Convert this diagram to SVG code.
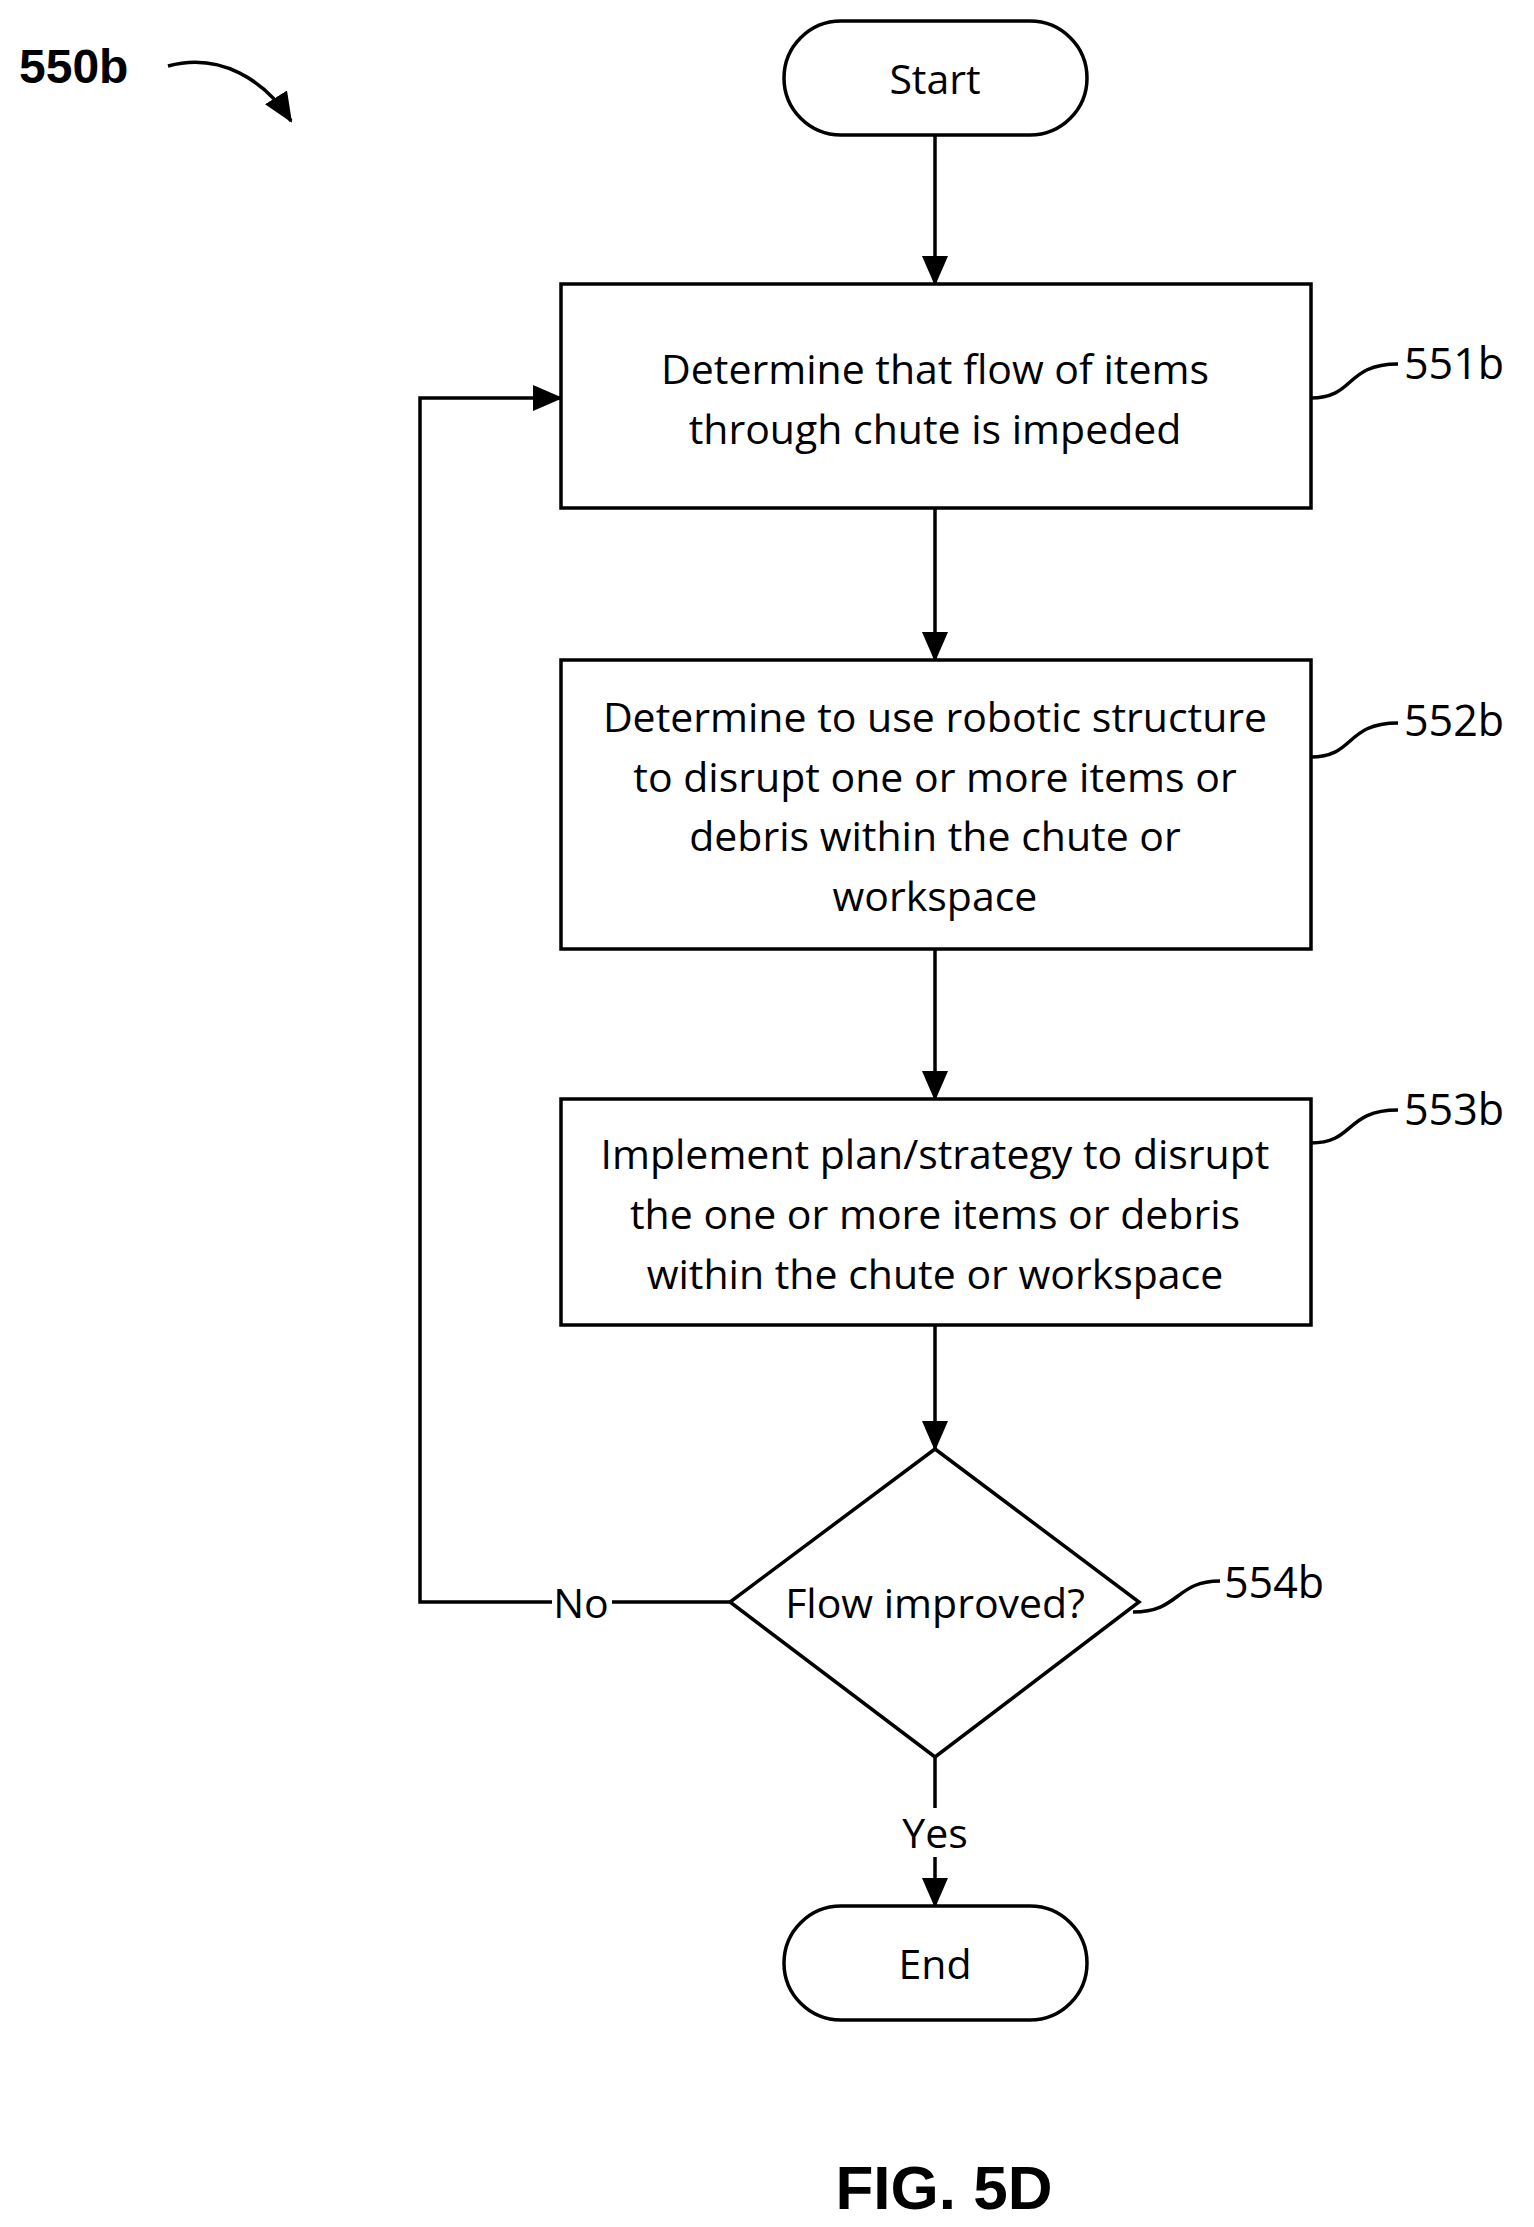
<svg xmlns="http://www.w3.org/2000/svg" width="1534" height="2227" viewBox="0 0 1534 2227">
<style>
.s{fill:#fff;stroke:#000;stroke-width:3.5}
.l{fill:none;stroke:#000;stroke-width:3.5}
text{font-family:"Open Sans","Liberation Sans",sans-serif;font-size:41px;text-anchor:middle;dominant-baseline:central;fill:#000}
.r{text-anchor:start;font-size:43px}
</style>
<defs><marker id="b" markerWidth="30" markerHeight="30" refX="28" refY="15" orient="auto" markerUnits="userSpaceOnUse"><path d="M0,2L30,15L0,28z"/></marker></defs>
<rect width="1534" height="2227" fill="#fff"/>
<g id="connectors">
<path class="l" d="M935,135V284" marker-end="url(#b)"/>
<path class="l" d="M935,508V660" marker-end="url(#b)"/>
<path class="l" d="M935,949V1099" marker-end="url(#b)"/>
<path class="l" d="M935,1325V1449" marker-end="url(#b)"/>
<path class="l" d="M935,1757V1808M935,1857V1906" marker-end="url(#b)"/>
<path class="l" d="M730,1602H612M552,1602H420V398H561" marker-end="url(#b)"/>
<path class="l" d="M1311,398C1355,398 1345,364 1398,364"/>
<path class="l" d="M1311,757C1355,757 1345,723 1398,723"/>
<path class="l" d="M1311,1143C1355,1143 1345,1110 1398,1110"/>
<path class="l" d="M1133,1612C1180,1612 1175,1581 1220,1581"/>
<path class="l" d="M168,66C220,52 265,80 291,121" marker-end="url(#b)"/>
<text x="581" y="1602">No</text>
<text x="935" y="1832">Yes</text>
</g>
<g id="start"><rect class="s" x="784" y="21" width="303" height="114" rx="57"/><text x="935" y="78">Start</text></g>
<g id="n551b"><rect class="s" x="561" y="284" width="750" height="224"/><text x="935" y="368">Determine that flow of items</text><text x="935" y="428">through chute is impeded</text><text class="r" x="1404" y="362">551b</text></g>
<g id="n552b"><rect class="s" x="561" y="660" width="750" height="289"/><text x="935" y="716">Determine to use robotic structure</text><text x="935" y="776">to disrupt one or more items or</text><text x="935" y="835">debris within the chute or</text><text x="935" y="895">workspace</text><text class="r" x="1404" y="719">552b</text></g>
<g id="n553b"><rect class="s" x="561" y="1099" width="750" height="226"/><text x="935" y="1153">Implement plan/strategy to disrupt</text><text x="935" y="1213">the one or more items or debris</text><text x="935" y="1273">within the chute or workspace</text><text class="r" x="1404" y="1108">553b</text></g>
<g id="n554b"><path class="s" d="M935,1449L1139,1602L935,1757L730,1602Z"/><text x="935" y="1602">Flow improved?</text><text class="r" x="1224" y="1581">554b</text></g>
<g id="end"><rect class="s" x="784" y="1906" width="303" height="114" rx="57"/><text x="935" y="1963">End</text></g>
<text x="19" y="66" style="text-anchor:start;font-family:'Liberation Sans',sans-serif;font-weight:bold;font-size:48px">550b</text>
<text x="944" y="2187" style="font-family:'Liberation Sans',sans-serif;font-weight:bold;font-size:62px">FIG. 5D</text>
</svg>
